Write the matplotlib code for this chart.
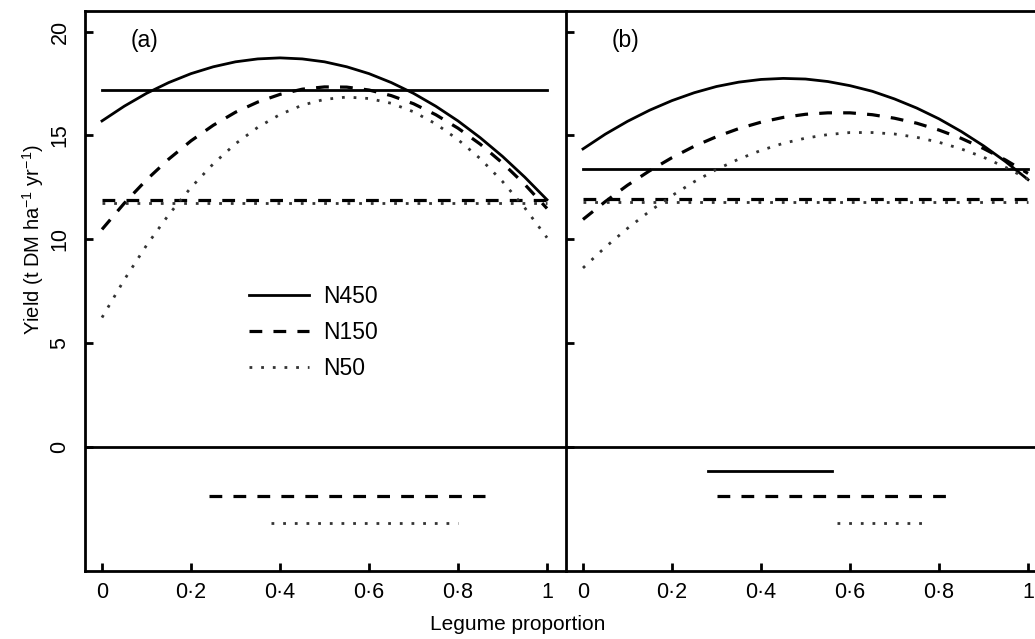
import matplotlib
matplotlib.use("Agg")
import matplotlib.pyplot as plt

plt.rcParams['font.family'] = ['Liberation Sans', 'DejaVu Sans']
plt.rcParams['mathtext.default'] = 'regular'

# legume proportion grid where curves were read
prop = [0.0, 0.05, 0.1, 0.15, 0.2, 0.25, 0.3, 0.35, 0.4, 0.45, 0.5,
        0.55, 0.6, 0.65, 0.7, 0.75, 0.8, 0.85, 0.9, 0.95, 1.0]

# panel (a) mixture yields
a_n450 = [15.70, 16.41, 17.03, 17.55, 17.98, 18.31, 18.55, 18.69, 18.74, 18.69, 18.55,
          18.31, 17.98, 17.55, 17.03, 16.41, 15.70, 14.89, 13.99, 12.99, 11.90]
a_n150 = [10.47, 11.73, 12.86, 13.86, 14.74, 15.49, 16.12, 16.61, 16.98, 17.23, 17.34,
          17.33, 17.19, 16.92, 16.53, 16.00, 15.35, 14.58, 13.67, 12.64, 11.48]
a_n50 = [6.22, 8.04, 9.70, 11.18, 12.49, 13.63, 14.60, 15.39, 16.01, 16.46, 16.74,
         16.85, 16.78, 16.55, 16.14, 15.56, 14.80, 13.88, 12.78, 11.51, 10.07]

# panel (b) mixture yields
b_n450 = [14.35, 15.06, 15.68, 16.22, 16.68, 17.06, 17.36, 17.57, 17.70, 17.75, 17.72,
          17.60, 17.40, 17.13, 16.76, 16.32, 15.80, 15.19, 14.50, 13.73, 12.87]
b_n150 = [10.95, 11.81, 12.60, 13.30, 13.93, 14.48, 14.94, 15.33, 15.64, 15.87, 16.02,
          16.09, 16.09, 16.00, 15.83, 15.59, 15.26, 14.86, 14.37, 13.81, 13.17]
b_n50 = [8.61, 9.61, 10.52, 11.35, 12.10, 12.77, 13.36, 13.86, 14.28, 14.62, 14.87,
         15.04, 15.14, 15.14, 15.07, 14.91, 14.67, 14.35, 13.95, 13.46, 12.89]

# best monoculture yields (horizontal lines): N450, N150, N50
a_mono = [17.2, 11.9, 11.75]
b_mono = [13.4, 11.95, 11.8]

# ranges of legume proportion where mixture beats monoculture
a_ranges = [None, (0.24, 0.86), (0.38, 0.80)]
b_ranges = [(0.28, 0.56), (0.30, 0.83), (0.57, 0.78)]
range_y = [-1.2, -2.4, -3.7]

labels = ['N450', 'N150', 'N50']
xticks = [0, 0.2, 0.4, 0.6, 0.8, 1]
xticklabels = ['0', '0\u00b72', '0\u00b74', '0\u00b76', '0\u00b78', '1']
yticks = [0, 5, 10, 15, 20]

styles = [dict(color='black', lw=2.0, ls='-'),
          dict(color='black', lw=2.3, ls=(0, (4, 3.5))),
          dict(color='0.2', lw=2.0, ls=(0, (1, 3.2)))]

fig = plt.figure(figsize=(10.35, 6.39), dpi=100)
axa = fig.add_axes([85 / 1035, 1 - 571 / 639, 481 / 1035, 560 / 639])
axb = fig.add_axes([566 / 1035, 1 - 571 / 639, 469 / 1035, 560 / 639])

panels = [(axa, [a_n450, a_n150, a_n50], a_mono, a_ranges, '(a)', 1.0427),
          (axb, [b_n450, b_n150, b_n50], b_mono, b_ranges, '(b)', 1.0157)]

for ax, curves, mono, ranges, tag, xr in panels:
    for i in range(3):
        ax.plot(prop, curves[i], label=labels[i], **styles[i])
        ax.plot([prop[0], prop[-1]], [mono[i], mono[i]], **styles[i])
        if ranges[i] is not None:
            ax.plot(list(ranges[i]), [range_y[i], range_y[i]], **styles[i])
    ax.axhline(0, color='black', lw=2.0)
    ax.set_xlim(-0.0382, xr)
    ax.set_ylim(-6, 21)
    ax.set_xticks(xticks)
    ax.set_xticklabels(xticklabels)
    ax.set_yticks(yticks)
    ax.tick_params(direction='in', length=6, width=2, labelsize=15.5)
    ax.tick_params(axis='x', pad=8)
    ax.tick_params(axis='y', pad=10.5, labelrotation=90)
    for s in ax.spines.values():
        s.set_linewidth(2.0)
    ax.text(0.065, 19.6, tag, fontsize=16.5, ha='left', va='center')

axa.spines['right'].set_visible(False)
axb.spines['right'].set_visible(False)
axb.set_yticklabels([])
for t in axa.get_yticklabels():
    t.set_va('center')

axa.legend(loc='upper left', bbox_to_anchor=(238 / 1035, 1 - 274 / 639),
           bbox_transform=fig.transFigure, frameon=False, fontsize=16.5,
           handlelength=2.6, handletextpad=0.6, labelspacing=0.55, borderpad=0)

fig.text(33 / 1035, 1 - 240 / 639, r'Yield (t DM ha$^{-1}$ yr$^{-1}$)',
         rotation=90, ha='center', va='center', fontsize=14.5)
fig.text(518 / 1035, 1 - 624 / 639, 'Legume proportion', ha='center',
         va='center', fontsize=15)

fig.savefig('out.png', dpi=100)
